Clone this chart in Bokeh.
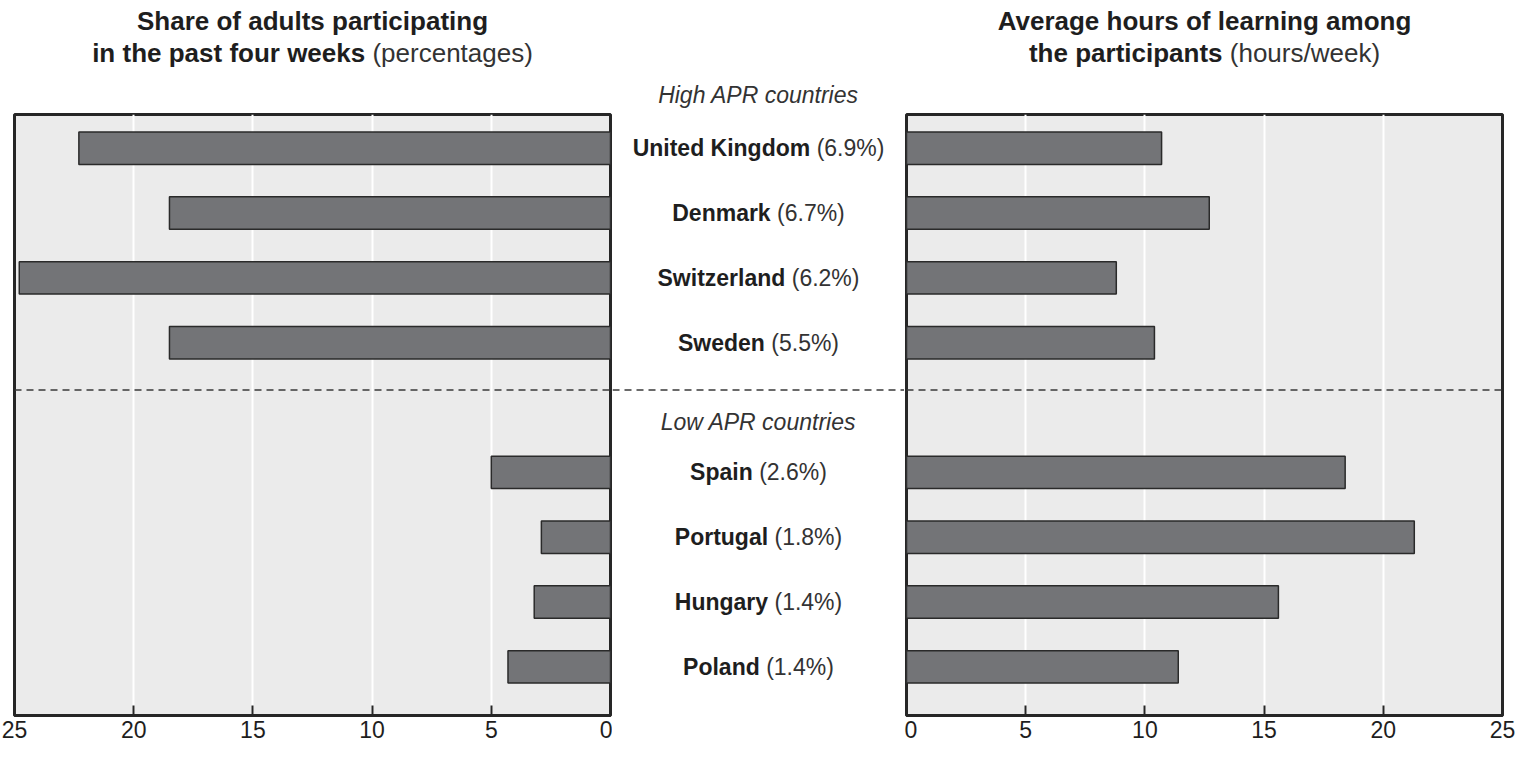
from bokeh.plotting import figure
from bokeh.models import Range1d, FixedTicker, Span, Label
from bokeh.layouts import row, column
from bokeh.embed import file_html
from bokeh.resources import INLINE

# ---------------- data ----------------
countries = ["United Kingdom", "Denmark", "Switzerland", "Sweden",
             "Spain", "Portugal", "Hungary", "Poland"]
apr_rate = ["6.9%", "6.7%", "6.2%", "5.5%", "2.6%", "1.8%", "1.4%", "1.4%"]
share_participating = [22.3, 18.5, 24.8, 18.5, 5.0, 2.9, 3.2, 4.3]
hours_per_week = [10.7, 12.7, 8.8, 10.4, 18.4, 21.3, 15.6, 11.4]
group_labels = ["High APR countries", "Low APR countries"]
x_ticks = [0, 5, 10, 15, 20, 25]

# row positions (a blank slot separates the two groups)
rows = [0, 1, 2, 3, 5, 6, 7, 8]
SEP = 3.73
LOW_LABEL_Y = 4.23

# ---------------- styling ----------------
FONT = "Liberation Sans"
BG = "#ebebeb"
BAR = "#737477"
DARK = "#262626"
TXT = "#1e1e1e"
TXT2 = "#333333"

TITLE_H = 110
FIG_H = 749 - TITLE_H
TOP = 4
BOTTOM = 34
Y_TOP, Y_BOT = -0.52, 8.75

BOLD = {" ": 278, "U": 722, "n": 611, "i": 278, "t": 333, "e": 556, "d": 611, "K": 722,
        "g": 611, "o": 611, "m": 889, "D": 722, "a": 556, "r": 389, "k": 556, "S": 667,
        "w": 778, "z": 500, "l": 278, "p": 611, "P": 667, "u": 611, "H": 722, "y": 556,
        "h": 611, "s": 556, "f": 333, "c": 556}
REG = {" ": 278, "(": 333, ")": 333, ".": 278, "%": 889, "/": 278, "p": 556, "e": 556,
       "r": 333, "c": 500, "n": 556, "t": 278, "a": 556, "g": 556, "s": 500, "h": 556,
       "o": 556, "u": 556, "w": 722, "k": 500}
for d in "0123456789":
    REG[d] = 556


def tw(s, tbl, size):
    return sum(tbl.get(c, 556) for c in s) / 1000.0 * size


def two_part(fig, x, y, bold_txt, reg_txt, size, color_b=TXT, color_r=TXT2):
    wb = tw(bold_txt, BOLD, size)
    ws = tw(" ", REG, size)
    wr = tw(reg_txt, REG, size)
    tot = wb + ws + wr
    fig.add_layout(Label(x=x, y=y, x_offset=-tot / 2, text=bold_txt, text_font=FONT,
                         text_font_style="bold", text_font_size=f"{size}px",
                         text_color=color_b, text_align="left", text_baseline="middle"))
    fig.add_layout(Label(x=x, y=y, x_offset=-tot / 2 + wb + ws, text=reg_txt, text_font=FONT,
                         text_font_style="normal", text_font_size=f"{size}px",
                         text_color=color_r, text_align="left", text_baseline="middle"))


def one_line(fig, x, y, txt, size, style="bold", color=TXT):
    fig.add_layout(Label(x=x, y=y, text=txt, text_font=FONT, text_font_style=style,
                         text_font_size=f"{size}px", text_color=color,
                         text_align="center", text_baseline="middle"))


def bare(fig):
    fig.outline_line_color = None
    fig.xgrid.grid_line_color = None
    fig.ygrid.grid_line_color = None
    fig.background_fill_color = "white"
    fig.border_fill_color = "white"


def panel(x_start, x_end, values, border_left, border_right):
    p = figure(width=612, height=FIG_H, output_backend="svg", toolbar_location=None,
               x_range=Range1d(x_start, x_end), y_range=Range1d(Y_BOT, Y_TOP),
               y_axis_location=None, min_border_left=border_left,
               min_border_right=border_right, min_border_top=TOP, min_border_bottom=BOTTOM)
    p.background_fill_color = BG
    p.border_fill_color = "white"
    p.outline_line_color = DARK
    p.outline_line_width = 3
    p.ygrid.grid_line_color = None
    p.xgrid.grid_line_color = "white"
    p.xgrid.grid_line_width = 2
    p.xaxis.ticker = FixedTicker(ticks=x_ticks)
    p.xaxis.major_tick_in = 10
    p.xaxis.major_tick_out = 0
    p.xaxis.minor_tick_line_color = None
    p.xaxis.major_tick_line_color = DARK
    p.xaxis.major_tick_line_width = 2
    p.xaxis.axis_line_color = DARK
    p.xaxis.axis_line_width = 3
    p.xaxis.major_label_text_font = FONT
    p.xaxis.major_label_text_font_size = "23px"
    p.xaxis.major_label_text_color = TXT
    p.xaxis.major_label_standoff = 5
    p.hbar(y=rows, left=0, right=values, height=0.5, fill_color=BAR,
           line_color="#2a2a2a", line_width=1.5)
    p.add_layout(Span(location=SEP, dimension="width", line_color="#3a3a3a",
                      line_width=1.5, line_dash="7 5"))
    return p


left = panel(25, 0, share_participating, 14, 2)
right = panel(0, 25, hours_per_week, 2, 14)

# middle label column
mid = figure(width=292, height=FIG_H, output_backend="svg", toolbar_location=None,
             x_range=Range1d(0, 292), y_range=Range1d(Y_BOT, Y_TOP),
             x_axis_location=None, y_axis_location=None,
             min_border_left=0, min_border_right=0, min_border_top=TOP,
             min_border_bottom=BOTTOM)
bare(mid)
mid.add_layout(Span(location=SEP, dimension="width", line_color="#3a3a3a",
                    line_width=1.5, line_dash="7 5"))

CX = 146
one_line(mid, CX, LOW_LABEL_Y, group_labels[1], 23, style="italic", color=TXT2)
for name, rate, yy in zip(countries, apr_rate, rows):
    two_part(mid, CX, yy, name, f"({rate})", 23)

# heading strip (pixel coordinates, y downward)
head = figure(width=1516, height=TITLE_H, output_backend="svg", toolbar_location=None,
              x_range=Range1d(0, 1516), y_range=Range1d(TITLE_H, 0),
              x_axis_location=None, y_axis_location=None,
              min_border_left=0, min_border_right=0, min_border_top=0, min_border_bottom=0)
bare(head)
LEFT_C, MID_C, RIGHT_C = 312, 758, 1204
one_line(head, LEFT_C, 20, "Share of adults participating", 26)
two_part(head, LEFT_C, 52, "in the past four weeks", "(percentages)", 26)
one_line(head, RIGHT_C, 20, "Average hours of learning among", 26)
two_part(head, RIGHT_C, 52, "the participants", "(hours/week)", 26)
one_line(head, MID_C, 94, group_labels[0], 23, style="italic", color=TXT2)

layout = column(head, row(left, mid, right))
open("out.html", "w").write(file_html(layout, INLINE))
